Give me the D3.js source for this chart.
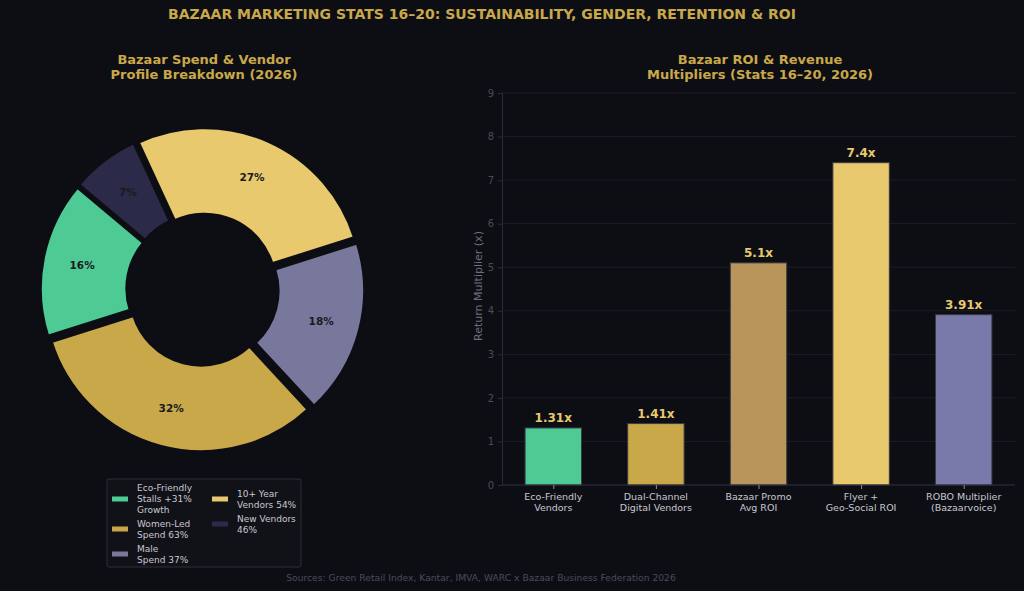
<!DOCTYPE html>
<html>
<head>
<meta charset="utf-8">
<script src="https://cdn.jsdelivr.net/npm/d3@7"></script>
<style>
  html, body { margin: 0; padding: 0; background: #0d0e14; }
  svg text { font-family: "DejaVu Sans", sans-serif; }
</style>
</head>
<body>
<div id="chart"></div>
<script>
// pie data (share of spend & vendor profile)
const pieNames = ["Eco-Friendly Stalls +31% Growth", "Women-Led Spend 63%", "Male Spend 37%", "10+ Year Vendors 54%", "New Vendors 46%"];
const pieValues = [16, 32, 18, 27, 7];
const pieColors = ["#4ecb94", "#c9a84a", "#78789c", "#e8c96e", "#2b2a48"];
const legendLines = [
  ["Eco-Friendly", "Stalls +31%", "Growth"],
  ["Women-Led", "Spend 63%"],
  ["Male", "Spend 37%"],
  ["10+ Year", "Vendors 54%"],
  ["New Vendors", "46%"]
];

// bar data
const barCats = [["Eco-Friendly", "Vendors"], ["Dual-Channel", "Digital Vendors"], ["Bazaar Promo", "Avg ROI"], ["Flyer +", "Geo-Social ROI"], ["ROBO Multiplier", "(Bazaarvoice)"]];
const barValues = [1.31, 1.41, 5.1, 7.4, 3.91];
const barLabels = ["1.31x", "1.41x", "5.1x", "7.4x", "3.91x"];
const barColors = ["#4ecb94", "#c9a84a", "#b8955a", "#e8c96e", "#7a7aaa"];
const yTicks = [0, 1, 2, 3, 4, 5, 6, 7, 8, 9];

const width = 1024, height = 591;
const bg = "#0d0e14";
const gold = "#c9a84a";

const svg = d3.select("#chart").append("svg")
    .attr("width", width).attr("height", height)
    .attr("viewBox", [0, 0, width, height]);

svg.append("rect").attr("width", width).attr("height", height).attr("fill", bg);

// main title
svg.append("text")
    .attr("x", 482).attr("y", 19)
    .attr("text-anchor", "middle")
    .attr("fill", gold)
    .style("font-size", "14px").style("font-weight", "bold")
    .text("BAZAAR MARKETING STATS 16–20: SUSTAINABILITY, GENDER, RETENTION & ROI");

// subtitles
const subtitle = (x, lines) => {
    lines.forEach((t, i) => {
        svg.append("text")
            .attr("x", x).attr("y", 64 + i * 15)
            .attr("text-anchor", "middle")
            .attr("fill", gold)
            .style("font-size", "13px").style("font-weight", "bold")
            .text(t);
    });
};
subtitle(204, ["Bazaar Spend & Vendor", "Profile Breakdown (2026)"]);
subtitle(760, ["Bazaar ROI & Revenue", "Multipliers (Stats 16–20, 2026)"]);

/* ---------- donut ---------- */
const cx = 202.5, cy = 289.5, R = 157, rIn = 71, explode = 5;

// matplotlib style: start at 140deg, going counterclockwise
const pie = d3.pie().sort(null)
    .startAngle((90 - 140) * Math.PI / 180)
    .endAngle((90 - 140 - 360) * Math.PI / 180);
const arcs = pie(pieValues);
const arc = d3.arc().innerRadius(rIn).outerRadius(R);
const labelArc = d3.arc().innerRadius(R * 0.75).outerRadius(R * 0.75);

const pieG = svg.append("g").attr("transform", `translate(${cx},${cy})`);

const slice = pieG.selectAll("g.slice")
    .data(arcs)
    .enter().append("g")
    .attr("class", "slice")
    .attr("transform", d => {
        const m = (d.startAngle + d.endAngle) / 2;
        return `translate(${Math.sin(m) * explode},${-Math.cos(m) * explode})`;
    });

slice.append("path")
    .attr("d", arc)
    .attr("fill", (d, i) => pieColors[i])
    .attr("stroke", bg)
    .attr("stroke-width", 2.5);

slice.append("text")
    .attr("transform", d => `translate(${labelArc.centroid(d)})`)
    .attr("text-anchor", "middle")
    .attr("dy", "0.35em")
    .attr("fill", "#1a1a1f")
    .style("font-size", "10.5px").style("font-weight", "bold")
    .text(d => d.value + "%");

// legend
const lg = svg.append("g");
lg.append("rect")
    .attr("x", 107).attr("y", 479).attr("width", 194).attr("height", 88)
    .attr("rx", 2)
    .attr("fill", "#111218").attr("stroke", "#2c2d38").attr("stroke-width", 1);

const legendPos = [
    {x: 112, y: 499}, {x: 112, y: 529}, {x: 112, y: 554},
    {x: 212, y: 499}, {x: 212, y: 524}
];
legendLines.forEach((lines, i) => {
    const p = legendPos[i];
    lg.append("rect")
        .attr("x", p.x).attr("y", p.y - 2.5).attr("width", 16).attr("height", 5)
        .attr("fill", pieColors[i]);
    const t = lg.append("text")
        .attr("fill", "#c8c8d0")
        .style("font-size", "9px");
    const lh = 11;
    const y0 = p.y - (lines.length - 1) * lh / 2;
    lines.forEach((s, j) => {
        t.append("tspan")
            .attr("x", p.x + 25)
            .attr("y", y0 + j * lh)
            .attr("dy", "0.35em")
            .text(s);
    });
});

/* ---------- bar chart ---------- */
const bm = {left: 502, right: 1015, top: 93, bottom: 485};

const xScale = d3.scalePoint()
    .domain(d3.range(barValues.length))
    .range([bm.left, bm.right])
    .padding(0.5);
const yScale = d3.scaleLinear()
    .domain([0, 9])
    .range([bm.bottom, bm.top]);
const barW = xScale.step() * 0.55;

// grid
svg.append("g")
    .selectAll("line")
    .data(yTicks)
    .enter().append("line")
    .attr("x1", bm.left).attr("x2", bm.right)
    .attr("y1", d => yScale(d)).attr("y2", d => yScale(d))
    .attr("stroke", "#1c1d28").attr("stroke-width", 1);

// bars
svg.append("g")
    .selectAll("rect")
    .data(barValues)
    .enter().append("rect")
    .attr("x", (d, i) => xScale(i) - barW / 2)
    .attr("y", d => yScale(d))
    .attr("width", barW)
    .attr("height", d => yScale(0) - yScale(d))
    .attr("fill", (d, i) => barColors[i])
    .attr("stroke", "#3a3a44").attr("stroke-width", 1);

// value labels
svg.append("g")
    .selectAll("text")
    .data(barValues)
    .enter().append("text")
    .attr("x", (d, i) => xScale(i))
    .attr("y", d => yScale(d) - 6)
    .attr("text-anchor", "middle")
    .attr("fill", "#e8c96e")
    .style("font-size", "12px").style("font-weight", "bold")
    .text((d, i) => barLabels[i]);

// y axis
const yAxis = d3.axisLeft(yScale).tickValues(yTicks).tickSize(4).tickPadding(4);
const yGroup = svg.append("g")
    .attr("transform", `translate(${bm.left},0)`)
    .call(yAxis);
yGroup.select(".domain").attr("stroke", "#2a2b38");
yGroup.selectAll(".tick line").attr("stroke", "#2a2b38");
yGroup.selectAll(".tick text").attr("fill", "#4a4b5a").style("font-size", "10px")
    .style("font-family", "DejaVu Sans");

// x axis
const xAxis = d3.axisBottom(xScale).tickSize(4).tickFormat("");
const xGroup = svg.append("g")
    .attr("transform", `translate(0,${bm.bottom})`)
    .call(xAxis);
xGroup.select(".domain").attr("stroke", "#2a2b38").attr("d", `M${bm.left},0H${bm.right}`);
xGroup.selectAll(".tick line").attr("stroke", "#8a8a95");

// category labels
barCats.forEach((lines, i) => {
    const t = svg.append("text")
        .attr("text-anchor", "middle")
        .attr("fill", "#c8c8d0")
        .style("font-size", "9.5px");
    lines.forEach((s, j) => {
        t.append("tspan")
            .attr("x", xScale(i))
            .attr("y", 497 + j * 11)
            .attr("dy", "0.35em")
            .text(s);
    });
});

// y label
svg.append("text")
    .attr("transform", `translate(478,${(bm.top + bm.bottom) / 2 - 3}) rotate(-90)`)
    .attr("text-anchor", "middle")
    .attr("dy", "0.35em")
    .attr("fill", "#6e6f7c")
    .style("font-size", "11px")
    .text("Return Multiplier (x)");

// footer
svg.append("text")
    .attr("x", 481).attr("y", 581)
    .attr("text-anchor", "middle")
    .attr("fill", "#4a4b5e")
    .style("font-size", "9.2px")
    .text("Sources: Green Retail Index, Kantar, IMVA, WARC x Bazaar Business Federation 2026");
</script>
</body>
</html>
